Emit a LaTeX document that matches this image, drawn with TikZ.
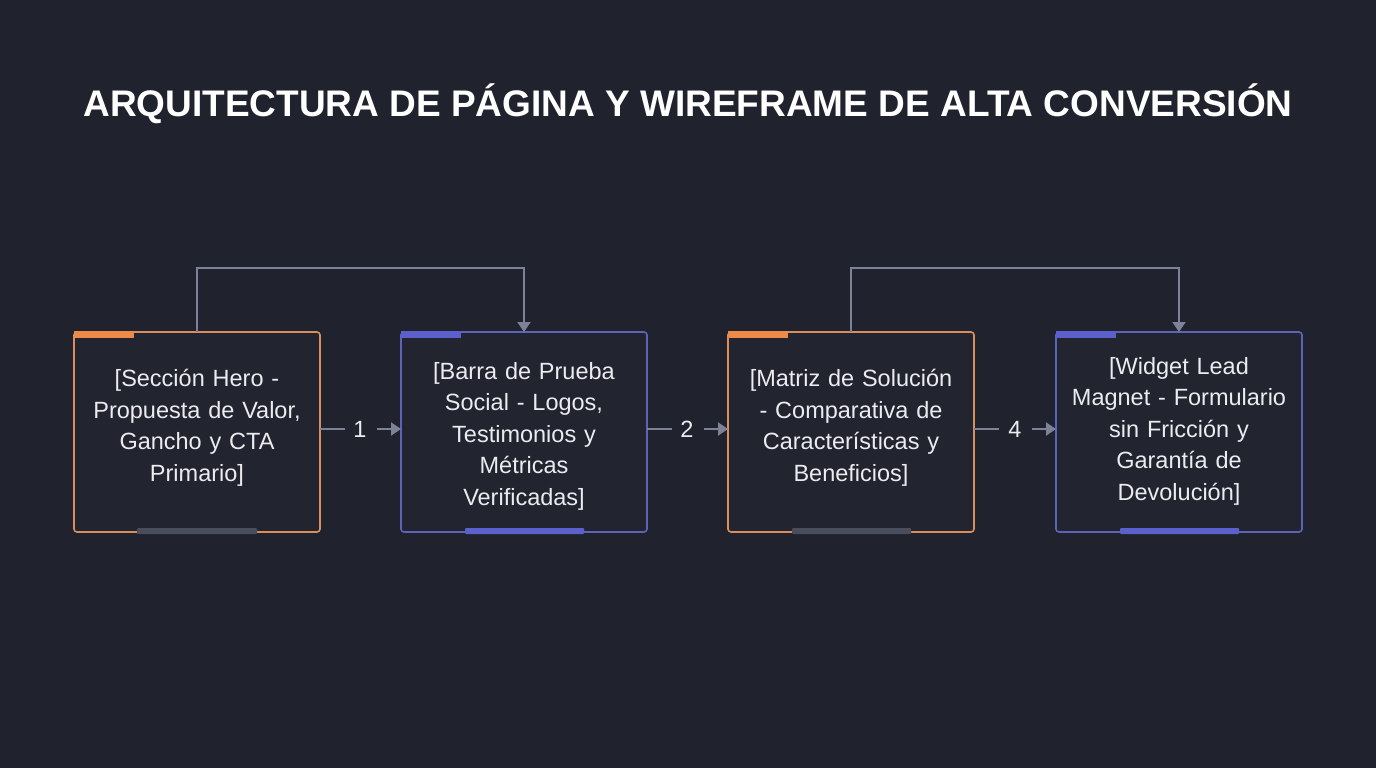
\documentclass[tikz,border=0pt]{standalone}
\usepackage{fontspec}
\setmainfont{Liberation Sans}
\usetikzlibrary{arrows.meta}
\definecolor{bg}{HTML}{20232D}
\definecolor{boxfill}{HTML}{222530}
\definecolor{orangeb}{HTML}{D98E5C}
\definecolor{orangea}{HTML}{EE8A48}
\definecolor{indigob}{HTML}{5E62B8}
\definecolor{indigoa}{HTML}{5C60CC}
\definecolor{greybar}{HTML}{4A4D5C}
\definecolor{conn}{HTML}{7D8299}
\definecolor{txt}{HTML}{ECECF0}
\tikzset{
  x=1pt,y=-1pt,
  card/.style={draw=#1, line width=1.6pt, fill=boxfill, rounded corners=3pt, minimum width=246pt, minimum height=200pt, anchor=north west, inner sep=0pt, outer sep=0pt},
  cardtext/.style={text=txt, font=\fontsize{23.5}{31.5}\selectfont, align=center, text width=236pt},
  conline/.style={draw=conn, line width=2pt},
  conarrow/.style={conline, -{Triangle[length=10pt,width=13pt]}},
  numlabel/.style={text=txt, font=\fontsize{23.5}{26}\selectfont, inner sep=0pt},
}
\begin{document}
\begin{tikzpicture}
\fill[bg] (0,0) rectangle (1376,768);
\useasboundingbox (0,0) rectangle (1376,768);
\node[text=white, font=\bfseries\fontsize{37}{40}\selectfont] (title) at (688,104) {ARQUITECTURA DE PÁGINA Y WIREFRAME DE ALTA CONVERSIÓN};

% cards
\node[card=orangeb] (b1) at (74,332) {};
\node[card=indigob] (b2) at (401,332) {};
\node[card=orangeb] (b3) at (728,332) {};
\node[card=indigob] (b4) at (1056,332) {};

% accent bars
\fill[orangea] (74,331.2) rectangle (134,337.5);
\fill[indigoa] (401,331.2) rectangle (461,337.5);
\fill[orangea] (728,331.2) rectangle (788,337.5);
\fill[indigoa] (1056,331.2) rectangle (1116,337.5);
\fill[greybar, rounded corners=1pt] (137,528) rectangle (257,534);
\fill[indigoa, rounded corners=1pt] (465,528) rectangle (584,534);
\fill[greybar, rounded corners=1pt] (792,528) rectangle (911,534);
\fill[indigoa, rounded corners=1pt] (1120,528) rectangle (1239,534);

% texts
\node[cardtext] (t1) at (197,428) {[Sección Hero -\\Propuesta de Valor,\\Gancho y CTA\\Primario]};
\node[cardtext] (t2) at (524,436) {[Barra de Prueba\\Social - Logos,\\Testimonios y\\Métricas\\Verificadas]};
\node[cardtext] (t3) at (851,428) {[Matriz de Solución\\- Comparativa de\\Características y\\Beneficios]};
\node[cardtext] (t4) at (1179,431) {[Widget Lead\\Magnet - Formulario\\sin Fricción y\\Garantía de\\Devolución]};

% numbered connectors
\node[numlabel] (n1) at (360,429) {1};
\node[numlabel] (n2) at (687,429) {2};
\node[numlabel] (n4) at (1015,429) {4};
\draw[conline] (b1.east |- n1.center) -- ++(25,0);
\draw[conarrow] ([xshift=17pt]n1.center) -- (b2.west |- n1.center);
\draw[conline] (b2.east |- n2.center) -- ++(25,0);
\draw[conarrow] ([xshift=17pt]n2.center) -- (b3.west |- n2.center);
\draw[conline] (b3.east |- n4.center) -- ++(25,0);
\draw[conarrow] ([xshift=17pt]n4.center) -- (b4.west |- n4.center);

% loop connectors
\draw[conarrow] (b1.north) -- ++(0,-64) -| (b2.north);
\draw[conarrow] (b3.north) -- ++(0,-64) -| (b4.north);
\end{tikzpicture}
\end{document}
